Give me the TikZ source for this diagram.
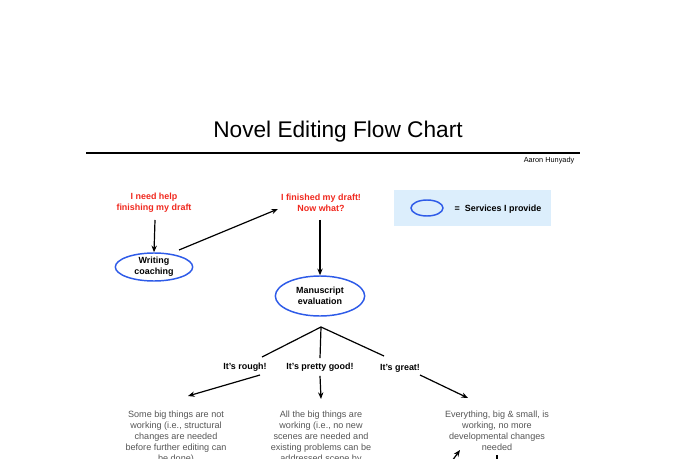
\documentclass[tikz,border=0pt]{standalone}
\usepackage{fontspec}
\setmainfont{Liberation Sans}
\usetikzlibrary{arrows.meta,shapes.geometric}
\definecolor{redt}{HTML}{F0281E}
\definecolor{blueo}{HTML}{2E5BE8}
\definecolor{legbg}{HTML}{DCEEFC}
\definecolor{grayt}{HTML}{555555}
\begin{document}
\begin{tikzpicture}[x=0.75pt,y=-0.75pt,
  q/.style={text=redt,font=\fontsize{6.7}{8.3}\selectfont\bfseries,align=center},
  svc/.style={draw=blueo,line width=1.1pt,ellipse,font=\fontsize{6.7}{8.3}\selectfont\bfseries,align=center,inner sep=0pt},
  lab/.style={font=\fontsize{6.7}{8}\selectfont\bfseries},
  desc/.style={text=grayt,font=\fontsize{6.8}{8.3}\selectfont,align=center,anchor=north},
  arr/.style={-{Stealth[length=5pt,width=4pt]},line width=0.9pt},
  ln/.style={line width=0.9pt}]
\path[use as bounding box] (0,0) rectangle (680,459);
\node[font=\fontsize{17}{20}\selectfont] (title) at (338,132) {Novel Editing Flow Chart};
\coordinate (hl) at (86,153); \coordinate (hr) at (580,153);
\draw[line width=0.9pt] (hl) -- (hr);
\node[font=\fontsize{5.5}{6}\selectfont,anchor=east] (author) at (579,161) {Aaron Hunyady};
% legend
\fill[legbg] (394,190) rectangle (551,226);
\node[svc,minimum width=24pt,minimum height=12pt] (legell) at (427,208) {};
\node[lab,anchor=west] (legtxt) at (450,209) {=\ \ Services I provide};
% top
\node[q] (help) at (154,203) {I need help\\finishing my draft};
\node[q] (fin) at (321,203) {I finished my draft!\\Now what?};
\node[svc,minimum width=58pt,minimum height=21pt] (wc) at (154,267) {Writing\\coaching};
\node[svc,minimum width=67pt,minimum height=30pt] (me) at (320,296) {Manuscript\\evaluation};
\draw[arr] (155,220) -- (wc.north);
\draw[arr] (179,250) -- (278,209);
\draw[arr] (320,220) -- (me.north);
% branches
\coordinate (br) at (321,327);
\node[lab] (r) at (245,367) {It's rough!};
\node[lab] (g) at (320,367) {It's pretty good!};
\node[lab] (gr) at (400,368) {It's great!};
\draw[ln] (br) -- (262,357);
\draw[ln] (br) -- (g.north);
\draw[ln] (br) -- (384,356);
\draw[arr] (260,375) -- (188,396);
\draw[arr] (g.south) -- (321,399);
\draw[arr] (420,375) -- (468,398);
\node[desc] (d1) at (176,406) {Some big things are not\\working (i.e., structural\\changes are needed\\before further editing can\\be done)};
\node[desc] (d2) at (321,406) {All the big things are\\working (i.e., no new\\scenes are needed and\\existing problems can be\\addressed scene by};
\node[desc] (d3) at (497,406) {Everything, big \& small, is\\working, no more\\developmental changes\\needed};
\coordinate (a1) at (452,461); \coordinate (a2) at (460,450);
\draw[arr] (a1) -- (a2);
\coordinate (v1) at (497,455); \coordinate (v2) at (497,462);
\draw[ln] (v1) -- (v2);
\end{tikzpicture}
\end{document}
